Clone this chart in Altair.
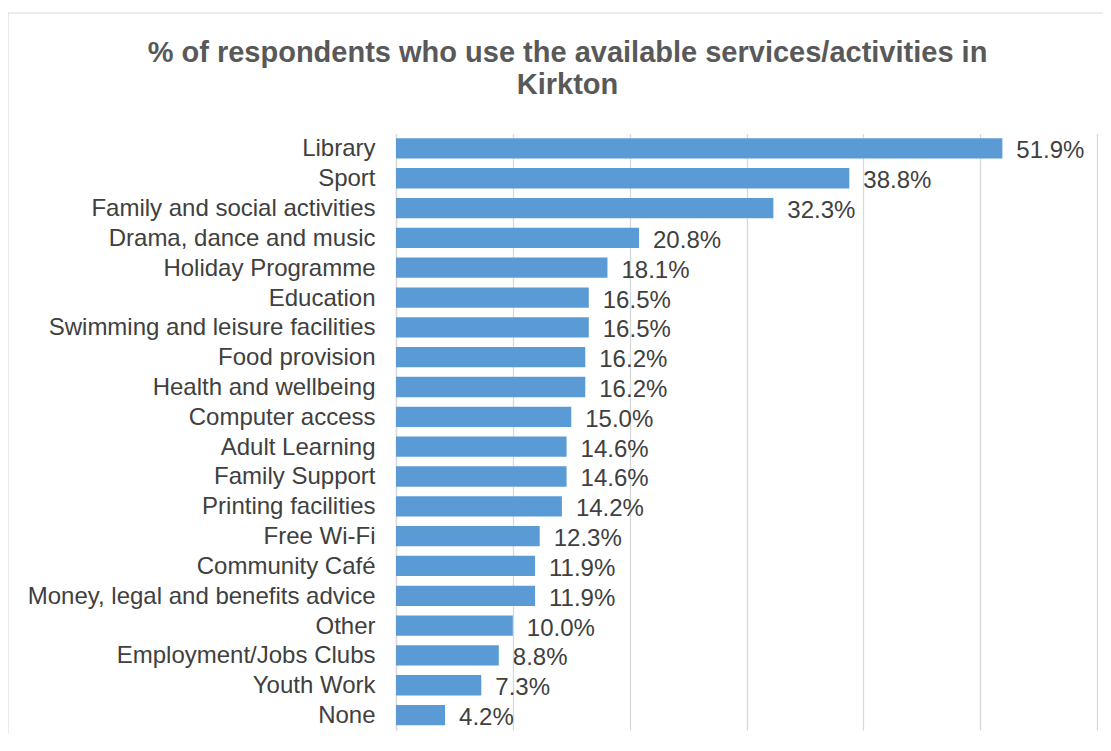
import altair as alt
import pandas as pd

categories = [
    "Library", "Sport", "Family and social activities", "Drama, dance and music",
    "Holiday Programme", "Education\u00a0", "Swimming and leisure facilities",
    "Food provision\u00a0", "Health and wellbeing\u00a0", "Computer access",
    "Adult Learning\u00a0", "Family Support", "Printing facilities", "Free Wi-Fi",
    "Community Café", "Money, legal and benefits advice", "Other",
    "Employment/Jobs Clubs", "Youth Work", "None",
]
values = [51.9, 38.8, 32.3, 20.8, 18.1, 16.5, 16.5, 16.2, 16.2, 15.0,
          14.6, 14.6, 14.2, 12.3, 11.9, 11.9, 10.0, 8.8, 7.3, 4.2]
x_ticks = [0, 10, 20, 30, 40, 50, 60]

df = pd.DataFrame({"category": categories, "value": values})

FONT = "Liberation Sans"
TEXT = "#404040"

y_enc = alt.Y("category:N", sort=categories, title=None,
              scale=alt.Scale(paddingInner=0.32, paddingOuter=0.16),
              axis=alt.Axis(labelFontSize=24, labelColor=TEXT, labelFont=FONT,
                            labelPadding=21, labelOffset=1, ticks=False, domain=True,
                            grid=False, domainColor="#D9D9D9", domainWidth=1.3,
                            labelLimit=500))
x_enc = alt.X("value:Q", title=None,
              scale=alt.Scale(domain=[0, 60], nice=False),
              axis=alt.Axis(values=x_ticks, labels=False, ticks=False, domain=False,
                            grid=True, gridColor="#D9D9D9", gridWidth=1.3))

bars = alt.Chart(df).mark_bar(color="#5B9BD5").encode(y=y_enc, x=x_enc)

labels = alt.Chart(df).transform_calculate(
    label="format(datum.value, '.1f') + '%'"
).mark_text(align="left", baseline="middle", dx=14, dy=3, fontSize=24,
            font=FONT, color=TEXT).encode(
    y=y_enc,
    x=x_enc,
    text="label:N",
)

border = alt.Chart(pd.DataFrame({"a": [0]})).mark_rect(
    fillOpacity=0, stroke="#D9D9D9", strokeWidth=1
).encode(x=alt.value(-388), x2=alt.value(800), y=alt.value(-120.5), y2=alt.value(800))

chart = alt.layer(border, bars, labels).properties(
    width=701,
    height=596.5,
    background="white",
    autosize=alt.AutoSizeParams(type="none"),
    padding={"left": 388, "top": 125.5, "right": 6, "bottom": 4},
    title=alt.TitleParams(
        text=["% of respondents who use the available services/activities in", "Kirkton"],
        font=FONT, fontSize=29, fontWeight="bold", color="#595959",
        anchor="middle", dx=-179, offset=0, dy=87, lineHeight=32,
    ),
).configure_view(strokeWidth=0, stroke="transparent")

chart.save("out.html", embed_options={"renderer": "svg", "actions": False})
